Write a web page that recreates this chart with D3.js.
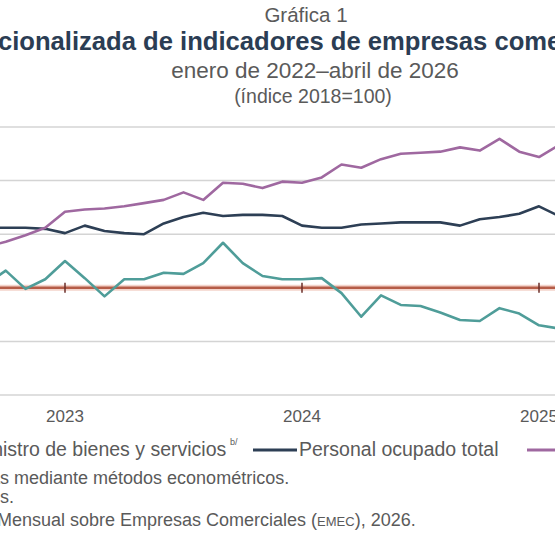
<!DOCTYPE html>
<html>
<head>
<meta charset="utf-8">
<script src="https://cdn.jsdelivr.net/npm/d3@7"></script>
<style>
  body { margin: 0; background: #fff; }
  svg { display: block; font-family: "Liberation Sans", Arial, sans-serif; }
</style>
</head>
<body>
<svg id="chart" width="555" height="555"></svg>
<script>
// months shown (the picture is a crop of the full Jan 2022 - Apr 2026 chart)
var months = ["2022-09","2022-10","2022-11","2022-12",
  "2023-01","2023-02","2023-03","2023-04","2023-05","2023-06","2023-07","2023-08","2023-09","2023-10","2023-11","2023-12",
  "2024-01","2024-02","2024-03","2024-04","2024-05","2024-06","2024-07","2024-08","2024-09","2024-10","2024-11","2024-12",
  "2025-01","2025-02"];
var suministro = [100.3,101.6,99.9,100.8, 102.5,100.9,99.2,100.8,100.8,101.4,101.3,102.3,104.2,102.3,101.1,100.8,
  100.8,100.9,99.5,97.3,99.3,98.4,98.3,97.7,97.0,96.9,98.1,97.6, 96.5,96.2];
var personal = [105.6,105.6,105.6,105.5, 105.1,105.8,105.3,105.1,105.0,106.0,106.6,107.0,106.7,106.8,106.8,106.7,
  105.8,105.6,105.6,105.9,106.0,106.1,106.1,106.1,105.8,106.4,106.6,106.9, 107.6,106.7];
var remuneraciones = [103.8,104.3,104.9,105.6, 107.1,107.3,107.4,107.6,107.9,108.2,108.9,108.2,109.8,109.7,109.3,109.9,
  109.8,110.3,111.5,111.2,112.0,112.5,112.6,112.7,113.1,112.8,113.9,112.7, 112.2,113.3];
var gridValues = [90, 95, 105, 110, 115];
var yearTicks = ["2023-01", "2024-01", "2025-01"];
var yearLabels = ["2023", "2024", "2025"];

var grey = "#5a5a5a";
var svg = d3.select("#chart");

function monthIndex(s){
    var p = s.split("-");
    return (+p[0] - 2022) * 12 + (+p[1] - 1);
}

// place a text so that the given substring starts at x (rest is cut by the window)
function placeFrom(textSel, sub, x){
    var node = textSel.node();
    var idx = node.textContent.indexOf(sub);
    var before = idx > 0 ? node.getSubStringLength(0, idx) : 0;
    textSel.attr("x", x - before);
}

var x = d3.scaleLinear().domain([12, 24]).range([65, 302]);
var y = d3.scaleLinear().domain([90, 115]).range([395, 127]);

// titles
svg.append("text").attr("x", 306).attr("y", 22).attr("text-anchor", "middle")
    .attr("font-size", 20.5).attr("fill", grey).text("Gráfica 1");
var bigTitle = svg.append("text").attr("y", 50).attr("font-size", 25.6).attr("font-weight", "bold")
    .attr("fill", "#2b3d54").text("Evolución desestacionalizada de indicadores de empresas comerciales");
placeFrom(bigTitle, "cionalizada", -2);
svg.append("text").attr("x", 315).attr("y", 78).attr("text-anchor", "middle")
    .attr("font-size", 22.5).attr("fill", grey).text("enero de 2022–abril de 2026");
svg.append("text").attr("x", 313).attr("y", 103).attr("text-anchor", "middle")
    .attr("font-size", 19.5).attr("fill", grey).text("(índice 2018=100)");

// grid
svg.append("g").selectAll("line").data(gridValues).enter().append("line")
    .attr("x1", 0).attr("x2", 555)
    .attr("y1", function(d){ return y(d); }).attr("y2", function(d){ return y(d); })
    .attr("stroke", "#d4d4d4").attr("stroke-width", 1.5);

// series
var lineGen = function(values){
    return d3.line()
        .x(function(d, i){ return x(monthIndex(months[i])); })
        .y(function(d){ return y(d); })(values);
};
var series = [
    {name: "suministro", values: suministro, color: "#4f9d99"},
    {name: "personal", values: personal, color: "#2d3f55"},
    {name: "remuneraciones", values: remuneraciones, color: "#9f68a0"}
];

// red reference line at 100
svg.append("line").attr("x1", 0).attr("x2", 555).attr("y1", y(100)).attr("y2", y(100))
    .attr("stroke", "#f3d3ca").attr("stroke-width", 6);
svg.append("line").attr("x1", 0).attr("x2", 555).attr("y1", y(100)).attr("y2", y(100))
    .attr("stroke", "#b55c47").attr("stroke-width", 2.5);
svg.append("g").selectAll("line").data(yearTicks).enter().append("line")
    .attr("x1", function(d){ return x(monthIndex(d)); }).attr("x2", function(d){ return x(monthIndex(d)); })
    .attr("y1", y(100) - 5).attr("y2", y(100) + 5)
    .attr("stroke", "#6a2e28").attr("stroke-width", 1.5);

svg.append("g").selectAll("path").data(series).enter().append("path")
    .attr("d", function(d){ return lineGen(d.values); })
    .attr("fill", "none").attr("stroke", function(d){ return d.color; })
    .attr("stroke-width", 2.6).attr("stroke-linejoin", "round");

// year labels
svg.append("g").selectAll("text").data(yearTicks).enter().append("text")
    .attr("x", function(d){ return x(monthIndex(d)); }).attr("y", 422)
    .attr("text-anchor", "middle").attr("font-size", 17).attr("fill", grey)
    .text(function(d, i){ return yearLabels[i]; });

// legend
var legY = 456;
var leg1 = svg.append("text").attr("y", legY).attr("font-size", 19.5).attr("fill", grey)
    .text("Ingresos por suministro de bienes y servicios");
placeFrom(leg1, "istro", 3);
svg.append("text").attr("x", 230).attr("y", legY - 11).attr("font-size", 9).attr("fill", grey).text("b/");
svg.append("line").attr("x1", 253).attr("x2", 297).attr("y1", legY - 6).attr("y2", legY - 6)
    .attr("stroke", "#2d3f55").attr("stroke-width", 3);
svg.append("text").attr("x", 299).attr("y", legY).attr("font-size", 19.5).attr("fill", grey)
    .text("Personal ocupado total");
svg.append("line").attr("x1", 527).attr("x2", 555).attr("y1", legY - 6).attr("y2", legY - 6)
    .attr("stroke", "#9f68a0").attr("stroke-width", 3);

// notes
var n1 = svg.append("text").attr("y", 484).attr("font-size", 18).attr("fill", grey)
    .text("a/ Series desestacionalizadas mediante métodos econométricos.");
placeFrom(n1, "s mediante", 0);
var n2 = svg.append("text").attr("y", 503).attr("font-size", 18).attr("fill", grey)
    .text("b/ Incluye bienes y servicios.");
placeFrom(n2, "s.", 0);
var n3 = svg.append("text").attr("y", 526).attr("font-size", 18).attr("fill", grey);
n3.append("tspan").text("Fuente: INEGI. Encuesta Mensual sobre Empresas Comerciales (");
n3.append("tspan").attr("font-size", 13).text("EMEC");
n3.append("tspan").text("), 2026.");
placeFrom(n3, "Mensual", -3);
</script>
</body>
</html>
